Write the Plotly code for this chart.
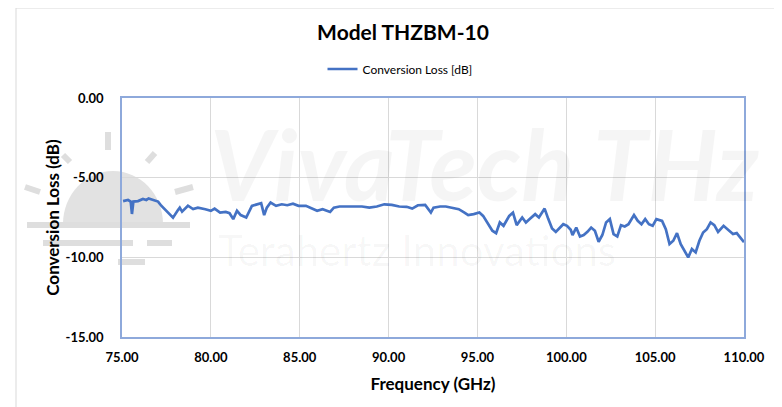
#!/usr/bin/env python3
# Conversion loss of the THZBM-10 mixer across W-band, Excel-style look
import plotly.graph_objects as go

# ------------ Data ------------
FREQ_GHZ = [
    75.06, 75.34, 75.49, 75.56, 75.64, 75.90, 76.18, 76.37, 76.50, 76.74,
    77.03, 77.21, 77.49, 77.87, 78.15, 78.25, 78.38, 78.71, 79.00, 79.27,
    79.69, 80.00, 80.21, 80.52, 80.84, 81.05, 81.26, 81.47, 81.68, 81.99,
    82.31, 82.62, 82.83, 83.00, 83.15, 83.36, 83.67, 83.99, 84.30, 84.62,
    84.93, 85.35, 85.67, 85.98, 86.29, 86.71, 86.92, 87.24, 87.66, 88.08,
    88.50, 88.92, 89.34, 89.76, 90.18, 90.60, 91.02, 91.33, 91.65, 92.06,
    92.27, 92.38, 92.53, 92.90, 93.22, 93.53, 93.95, 94.27, 94.48, 94.79,
    95.11, 95.32, 95.53, 95.84, 96.05, 96.26, 96.47, 96.79, 97.00, 97.21,
    97.52, 97.73, 97.94, 98.25, 98.46, 98.78, 98.99, 99.20, 99.41, 99.62,
    99.83, 100.04, 100.25, 100.35, 100.56, 100.77, 100.98, 101.19, 101.40, 101.61,
    101.82, 102.03, 102.24, 102.45, 102.66, 102.87, 103.08, 103.29, 103.50, 103.81,
    104.02, 104.23, 104.44, 104.65, 104.86, 105.07, 105.39, 105.60, 105.81, 106.02,
    106.23, 106.44, 106.65, 106.86, 107.07, 107.28, 107.49, 107.70, 107.91, 108.12,
    108.33, 108.54, 108.85, 109.06, 109.38, 109.59, 109.90, 110.00,
]
LOSS_DB = [
    -6.47, -6.40, -6.50, -7.28, -6.50, -6.47, -6.34, -6.40, -6.30, -6.40,
    -6.50, -6.76, -7.09, -7.51, -7.03, -6.88, -7.13, -6.76, -6.97, -6.88,
    -6.98, -7.08, -6.94, -7.19, -7.15, -7.23, -7.60, -7.08, -7.35, -7.50,
    -6.77, -6.67, -6.60, -7.35, -6.88, -6.56, -6.77, -6.67, -6.73, -6.63,
    -6.77, -6.77, -6.94, -7.08, -6.98, -7.15, -6.88, -6.81, -6.81, -6.81,
    -6.81, -6.88, -6.81, -6.67, -6.71, -6.81, -6.83, -6.94, -6.73, -6.71,
    -6.98, -7.19, -6.88, -6.81, -6.81, -6.88, -6.98, -7.19, -7.35, -7.29,
    -7.19, -7.40, -7.81, -8.33, -8.48, -7.81, -8.02, -7.40, -7.19, -7.98,
    -7.50, -7.81, -7.60, -7.29, -7.50, -6.94, -7.60, -8.19, -8.40, -8.19,
    -7.92, -8.02, -8.27, -8.60, -8.13, -8.69, -8.60, -8.40, -8.13, -8.33,
    -9.02, -8.60, -7.81, -7.60, -8.54, -8.69, -7.98, -8.06, -7.92, -7.35,
    -7.71, -7.92, -7.60, -7.92, -8.02, -7.60, -7.71, -8.23, -9.17, -8.96,
    -8.48, -9.17, -9.58, -10.00, -9.48, -9.69, -8.96, -8.44, -8.23, -7.81,
    -7.98, -8.40, -8.02, -8.23, -8.54, -8.48, -8.96, -9.05,
]
SERIES_NAME = "Conversion Loss [dB]"
TITLE = "Model THZBM-10"
X_TICKS = [75, 80, 85, 90, 95, 100, 105, 110]
Y_TICKS = [0, -5, -10, -15]

# ------------ Styles ------------
FONT = "Lato"
LINE_BLUE = "#4472C4"
FRAME_BLUE = "#8EA9DB"
GRID = "#D9D9D9"
WIN_W, WIN_H = 782, 407
OFF = 8  # body margin of the html page
W, H = WIN_W - OFF, WIN_H - OFF
# plot area in window pixels: x 122..744, y 98..337
PX0, PX1, PY0, PY1 = 122, 744, 98, 337
L, T = PX0 - OFF, PY0 - OFF
R, B = WIN_W - PX1, WIN_H - PY1
PW, PH = PX1 - PX0, PY1 - PY0


def px(x, y):
    # window pixel -> paper coords
    return (x - PX0) / PW, (PY1 - y) / PH


def rect(x0, y0, x1, y1, **kw):
    a, b = px(x0, y0)
    c, d = px(x1, y1)
    return dict(type="rect", xref="paper", yref="paper", x0=a, y0=b, x1=c, y1=d, **kw)


def seg(x0, y0, x1, y1, color="#DEDEDE", width=6):
    a, b = px(x0, y0)
    c, d = px(x1, y1)
    return dict(type="line", xref="paper", yref="paper", x0=a, y0=b, x1=c, y1=d,
                line=dict(color=color, width=width), layer="below")


fig = go.Figure()
fig.add_trace(go.Scatter(
    x=FREQ_GHZ, y=LOSS_DB, mode="lines", name=SERIES_NAME,
    line=dict(color=LINE_BLUE, width=2.7),
))

# watermark logo: half sun (two bezier quarters) with rays and horizon dashes
cx, cy = px(113, 224)
rx = px(163, 224)[0] - cx
ry = px(113, 171)[1] - cy
k = 0.5523
dome = (f"M {cx - rx},{cy} C {cx - rx},{cy + k * ry} {cx - k * rx},{cy + ry} {cx},{cy + ry} "
        f"C {cx + k * rx},{cy + ry} {cx + rx},{cy + k * ry} {cx + rx},{cy} Z")
shapes = [
    rect(16, 8, 781, 412, line=dict(color=GRID, width=1), layer="below"),
    dict(type="path", xref="paper", yref="paper", path=dome,
         fillcolor="#E2E2E2", line=dict(width=0), layer="below"),
    seg(27, 225, 190, 225),
    seg(43, 243, 133, 243),
    seg(147, 243, 172, 243),
    seg(118, 262, 145, 262),
    seg(108, 132, 108, 150),
    seg(147, 162, 155, 153),
    seg(63, 155, 70, 162),
    seg(175, 192, 193, 187),
    seg(25, 187, 40, 192),
]

wx, wy = px(208, 163)
fig.add_annotation(x=wx, y=wy, xref="paper", yref="paper",
                   text="<b><i>VivaTech THz</i></b>", showarrow=False,
                   xanchor="left", yanchor="middle",
                   font=dict(family=FONT, size=98, color="rgba(0,0,0,0.04)"))
tx, ty = px(216, 250)
fig.add_annotation(x=tx, y=ty, xref="paper", yref="paper",
                   text="Terahertz Innovations", showarrow=False,
                   xanchor="left", yanchor="middle",
                   font=dict(family=FONT, size=42, color="rgba(0,0,0,0.035)"))

lx, ly = px(400, 69)
fig.update_layout(
    width=W, height=H,
    margin=dict(l=L, r=R, t=T, b=B),
    paper_bgcolor="white",
    plot_bgcolor="rgba(0,0,0,0)",
    font=dict(family=FONT, color="#000"),
    title=dict(text=f"<b>{TITLE}</b>", x=(403 - OFF) / W, xanchor="center",
               y=1 - (33 - OFF) / H, yanchor="middle",
               font=dict(size=21, family=FONT, color="#000")),
    showlegend=True,
    legend=dict(orientation="h", x=lx, y=ly, xanchor="center", yanchor="middle",
                font=dict(size=12, family=FONT), itemwidth=30,
                bgcolor="rgba(0,0,0,0)"),
    shapes=shapes,
)

fig.update_xaxes(
    range=[75, 110], tickvals=X_TICKS,
    ticktext=[f"<b>{v:.2f}</b>" for v in X_TICKS],
    tickfont=dict(size=13, family=FONT),
    showgrid=True, gridcolor=GRID, gridwidth=1,
    showline=True, linecolor=FRAME_BLUE, linewidth=1.5, mirror=True,
    ticks="", zeroline=False, ticklabelstandoff=8,
    title=dict(text="<b>Frequency (GHz)</b>", font=dict(size=17, family=FONT), standoff=14),
)
fig.update_yaxes(
    range=[-15, 0], tickvals=Y_TICKS,
    ticktext=[f"<b>{v:.2f}</b>" for v in Y_TICKS],
    tickfont=dict(size=13, family=FONT),
    showgrid=True, gridcolor=GRID, gridwidth=1,
    showline=True, linecolor=FRAME_BLUE, linewidth=1.5, mirror=True,
    ticks="", zeroline=False, ticklabelstandoff=14,
    title=dict(text="<b>Conversion Loss (dB)</b>", font=dict(size=17, family=FONT), standoff=2),
)

fig.write_html("out.html")
